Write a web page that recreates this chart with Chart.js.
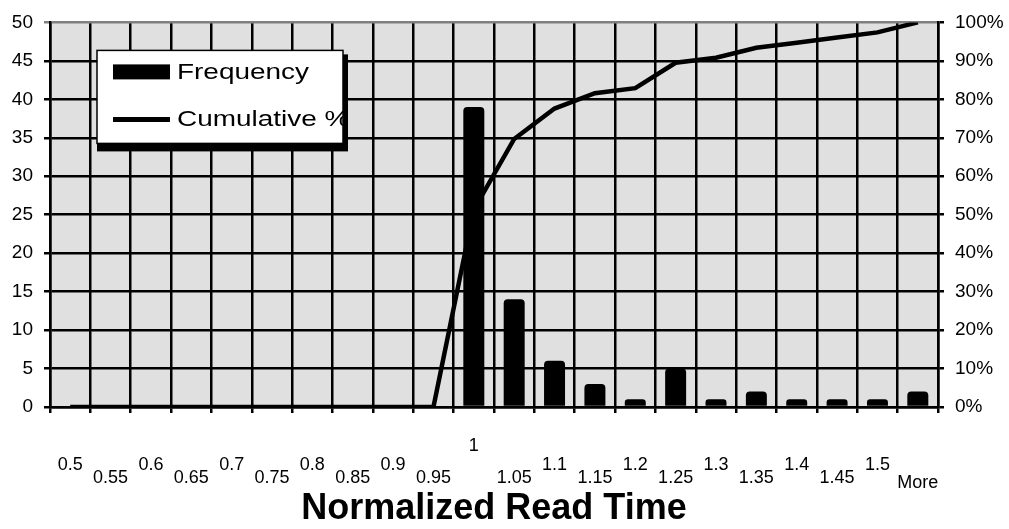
<!DOCTYPE html>
<html>
<head>
<meta charset="utf-8">
<title>Normalized Read Time</title>
<script src="https://cdn.jsdelivr.net/npm/chart.js@4.4.1/dist/chart.umd.min.js"></script>
<style>
  html, body { margin: 0; padding: 0; background: #fff; }
  #wrap { width: 1009px; height: 529px; }
</style>
</head>
<body>
<div id="wrap"><canvas id="hist" width="1009" height="529"></canvas></div>
<script>
// histogram bins (upper edge of each bin)
const BINS = ["0.5", "0.55", "0.6", "0.65", "0.7", "0.75", "0.8", "0.85", "0.9", "0.95",
  "1", "1.05", "1.1", "1.15", "1.2", "1.25", "1.3", "1.35", "1.4", "1.45", "1.5", "More"];

// counts per bin
const FREQUENCY = [0, 0, 0, 0, 0, 0, 0, 0, 0, 0,
  39, 14, 6, 3, 1, 5, 1, 2, 1, 1, 1, 2];

// running total, in percent
const CUMULATIVE_PCT = [0, 0, 0, 0, 0, 0, 0, 0, 0, 0,
  51.3, 69.7, 77.6, 81.6, 82.9, 89.5, 90.8, 93.4, 94.7, 96.1, 97.4, 100];

const FONT = "'Liberation Sans', Arial, Helvetica, sans-serif";

// grey plot area
const plotBackground = {
  id: "plotBackground",
  beforeDraw(chart) {
    const { ctx, chartArea: a } = chart;
    ctx.save();
    ctx.fillStyle = "#fff";
    ctx.fillRect(0, 0, chart.width, chart.height);
    ctx.fillStyle = "#e0e0e0";
    ctx.fillRect(a.left, a.top, a.right - a.left, a.bottom - a.top);
    ctx.restore();
  }
};

// old-style boxed legend with a drop shadow, sitting inside the plot
const boxLegend = {
  id: "boxLegend",
  afterDatasetsDraw(chart) {
    const { ctx, chartArea: a } = chart;
    const x = a.left + 47, y = a.top + 28, w = 246, h = 93;
    const [bars, line] = chart.data.datasets;

    ctx.save();
    ctx.fillStyle = "#000";
    ctx.fillRect(x, y + 4, w + 5, h + 4);
    ctx.fillStyle = "#fff";
    ctx.fillRect(x, y, w, h);
    ctx.strokeStyle = "#000";
    ctx.lineWidth = 1.5;
    ctx.strokeRect(x, y, w, h);

    ctx.beginPath();
    ctx.rect(x, y, w, h);
    ctx.clip();

    // frequency swatch
    ctx.fillStyle = "#000";
    ctx.fillRect(x + 16, y + 14, 57, 15);
    // cumulative swatch
    ctx.beginPath();
    ctx.moveTo(x + 16, y + 69);
    ctx.lineTo(x + 73, y + 69);
    ctx.lineWidth = 5;
    ctx.stroke();

    ctx.font = "22px " + FONT;
    ctx.textBaseline = "middle";
    [[bars.label, y + 23], [line.label, y + 70]].forEach(([txt, ty]) => {
      ctx.save();
      ctx.translate(x + 80, ty);
      ctx.scale(1.27, 1);
      ctx.fillText(txt, 0, 0);
      ctx.restore();
    });
    ctx.restore();
  }
};

new Chart(document.getElementById("hist"), {
  data: {
    labels: BINS,
    datasets: [
      {
        type: "bar",
        label: "Frequency",
        data: FREQUENCY,
        backgroundColor: "#000",
        borderRadius: { topLeft: 4, topRight: 4 },
        borderSkipped: "bottom",
        barPercentage: 0.52,
        categoryPercentage: 1,
        yAxisID: "y",
        order: 1
      },
      {
        type: "line",
        label: "Cumulative %",
        data: CUMULATIVE_PCT,
        borderColor: "#000",
        borderWidth: 4.5,
        pointRadius: 0,
        tension: 0,
        yAxisID: "y1",
        order: 0
      }
    ]
  },
  options: {
    responsive: false,
    animation: false,
    layout: { padding: { left: 0, right: 0, top: 10, bottom: 0 } },
    plugins: {
      legend: { display: false },
      tooltip: { enabled: false }
    },
    scales: {
      x: {
        offset: true,
        afterFit: s => { s.height = 122; },
        grid: { offset: true, color: "#000", lineWidth: 2.5, tickLength: 6 },
        border: { color: "#000", width: 2.5 },
        ticks: {
          autoSkip: false,
          maxRotation: 0,
          minRotation: 0,
          padding: 31,
          color: "#000",
          font: { family: FONT, size: 18, lineHeight: "4.6px" },
          // staggered labels: push each one down by a number of blank lines
          callback(value, index) {
            const label = BINS[index];
            let drop;
            if (label === "1") drop = 0;
            else if (label === "More") drop = 8;
            else drop = index % 2 === 0 ? 4 : 7;
            return Array(drop).fill("").concat(label);
          }
        },
        title: {
          display: true,
          text: "Normalized Read Time",
          color: "#000",
          font: { family: FONT, size: 36, weight: "bold", lineHeight: 1 },
          padding: { top: 4, bottom: 2 }
        }
      },
      y: {
        position: "left",
        min: 0,
        max: 50,
        afterFit: s => { s.width = 50; },
        grid: {
          color: c => (c.tick && c.tick.value === 50 ? "#808080" : "#000"),
          lineWidth: 2.5,
          tickLength: 6
        },
        border: { color: "#000", width: 2.5 },
        ticks: {
          stepSize: 5,
          padding: 11,
          color: "#000",
          font: { family: FONT, size: 19 }
        }
      },
      y1: {
        position: "right",
        min: 0,
        max: 100,
        afterFit: s => { s.width = 71; },
        grid: { drawOnChartArea: false, color: "#000", lineWidth: 2.5, tickLength: 6 },
        border: { color: "#000", width: 2.5 },
        ticks: {
          stepSize: 10,
          padding: 11,
          color: "#000",
          font: { family: FONT, size: 19 },
          callback: v => v + "%"
        }
      }
    }
  },
  plugins: [plotBackground, boxLegend]
});
</script>
</body>
</html>
